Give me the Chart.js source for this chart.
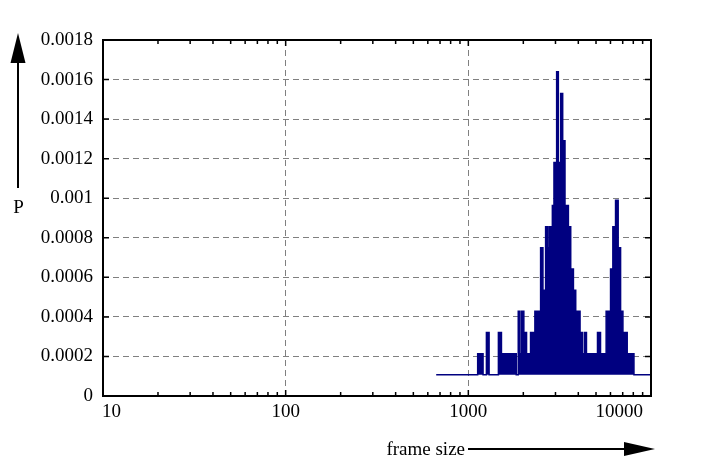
<!DOCTYPE html>
<html>
<head>
<meta charset="utf-8">
<style>
  html, body { margin: 0; padding: 0; background: #fff; }
  #wrap { width: 702px; height: 467px; }
</style>
<script src="https://cdn.jsdelivr.net/npm/chart.js@4.4.1/dist/chart.umd.min.js"></script>
</head>
<body>
<div id="wrap"><canvas id="myChart" width="702" height="467"></canvas></div>
<script>
'use strict';

// bin start (frame size, bytes) and probability
const frameSize = [667, 1125, 1149, 1168, 1204, 1256, 1299, 1461, 1518, 1829,
    1876, 1914, 1956, 2013, 2083, 2191, 2314, 2385, 2424, 2487,
    2561, 2649, 2707, 2762, 2884, 2943, 3044, 3110, 3203, 3285,
    3382, 3530, 3635, 3761, 3872, 4089, 4214, 4322, 4433, 5095,
    5292, 5681, 6006, 6183, 6397, 6611, 6815, 7019, 7409, 8066, 10000];
const prob = [0.000107, 0.000214, 0.00018, 0.000214, 0.000107, 0.000321, 0.000107, 0.000321, 0.000214, 0.000107,
    0.000428, 0.000214, 0.000428, 0.000321, 0.000214, 0.000321, 0.000428, 0.000321, 0.000428, 0.000749,
    0.000535, 0.000856, 0.000749, 0.000856, 0.000963, 0.00118, 0.00164, 0.00118, 0.00153, 0.00129,
    0.000963, 0.000856, 0.000642, 0.000535, 0.000428, 0.000321, 0.000214, 0.000321, 0.000214, 0.000321,
    0.000214, 0.000428, 0.000642, 0.000856, 0.00099, 0.000749, 0.000428, 0.000321, 0.000214, 0.000107, 0.000107];
const fillFloor = 0.000107;

const xTickLabels = [10, 100, 1000, 10000];
const yMax = 0.0018;
const yStep = 0.0002;
const xTitle = 'frame size';
const yTitle = 'P';

const FONT = '19px "Liberation Serif", "Times New Roman", serif';

const fmt = (v) => parseFloat(v.toFixed(5)).toString();

function arrowHead(ctx, tipX, tipY, dx, dy, len, half) {
    // dx, dy unit direction of the arrow
    const bx = tipX - dx * len, by = tipY - dy * len;
    ctx.beginPath();
    ctx.moveTo(tipX, tipY);
    ctx.lineTo(bx - dy * half, by + dx * half);
    ctx.lineTo(bx + dy * half, by - dx * half);
    ctx.closePath();
    ctx.fill();
}

const framePlugin = {
    id: 'frame',
    afterDraw(chart) {
        const ctx = chart.ctx;
        const a = chart.chartArea;
        const xs = chart.scales.x, ys = chart.scales.y;
        ctx.save();
        ctx.strokeStyle = '#000';
        ctx.fillStyle = '#000';

        // inward ticks
        ctx.lineWidth = 1.5;
        ctx.beginPath();
        for (let d = xs.min; d < xs.max; d *= 10) {
            for (let m = 1; m <= 9; m++) {
                const v = d * m;
                if (v <= xs.min || v >= xs.max) continue;
                const px = xs.getPixelForValue(v);
                const len = m === 1 ? 6 : 4;
                ctx.moveTo(px, a.bottom); ctx.lineTo(px, a.bottom - len);
                ctx.moveTo(px, a.top); ctx.lineTo(px, a.top + len);
            }
        }
        ys.ticks.forEach(t => {
            const py = ys.getPixelForValue(t.value);
            ctx.moveTo(a.left, py); ctx.lineTo(a.left + 6, py);
            ctx.moveTo(a.right, py); ctx.lineTo(a.right - 6, py);
        });
        ctx.stroke();

        // frame
        ctx.lineWidth = 2;
        ctx.strokeRect(a.left, a.top, a.right - a.left, a.bottom - a.top);

        // x tick labels, kept inside the frame
        ctx.font = FONT;
        ctx.textBaseline = 'alphabetic';
        ctx.textAlign = 'center';
        xTickLabels.forEach(v => {
            const s = String(v);
            const w = ctx.measureText(s).width;
            let px = xs.getPixelForValue(v);
            px = Math.max(a.left - 1 + w / 2, Math.min(a.right - 8 - w / 2, px));
            ctx.fillText(s, px, a.bottom + 21);
        });

        // y axis arrow and title
        ctx.lineWidth = 2;
        ctx.beginPath();
        ctx.moveTo(18, 188); ctx.lineTo(18, 60);
        ctx.stroke();
        arrowHead(ctx, 18, 33, 0, -1, 30, 7.5);
        ctx.textAlign = 'center';
        ctx.fillText(yTitle, 18.5, 213);

        // x axis arrow and title
        ctx.textAlign = 'right';
        ctx.fillText(xTitle, 465, 455);
        ctx.beginPath();
        ctx.moveTo(468, 449); ctx.lineTo(626, 449);
        ctx.stroke();
        arrowHead(ctx, 655, 449, 1, 0, 31, 7);
        ctx.restore();
    }
};

const ctx = document.getElementById('myChart').getContext('2d');
const myChart = new Chart(ctx, {
    type: 'line',
    data: {
        datasets: [{
            label: 'P',
            data: frameSize.map((x, i) => ({ x: x, y: prob[i] })),
            stepped: 'before',
            borderColor: '#000080',
            backgroundColor: '#000080',
            borderWidth: 1.5,
            pointRadius: 0,
            fill: { value: fillFloor }
        }]
    },
    options: {
        responsive: false,
        animation: false,
        devicePixelRatio: 1,
        layout: { padding: { left: 0, right: 51, top: 40, bottom: 71 } },
        plugins: {
            legend: { display: false },
            tooltip: { enabled: false }
        },
        scales: {
            x: {
                type: 'logarithmic',
                min: 10,
                max: 10000,
                afterBuildTicks: (scale) => {
                    scale.ticks = xTickLabels.map(v => ({ value: v }));
                },
                afterFit: (scale) => { scale.height = 0; },
                ticks: { display: false },
                grid: { color: '#808080', lineWidth: 1, drawTicks: false },
                border: { display: false, dash: [6, 4] }
            },
            y: {
                min: 0,
                max: yMax,
                afterFit: (scale) => { scale.width = 103; },
                ticks: {
                    stepSize: yStep,
                    color: '#000',
                    padding: 10,
                    font: { family: '"Liberation Serif", "Times New Roman", serif', size: 19 },
                    callback: (v) => fmt(v)
                },
                grid: { color: '#808080', lineWidth: 1, drawTicks: false },
                border: { display: false, dash: [6, 4] }
            }
        }
    },
    plugins: [framePlugin]
});
</script>
</body>
</html>
